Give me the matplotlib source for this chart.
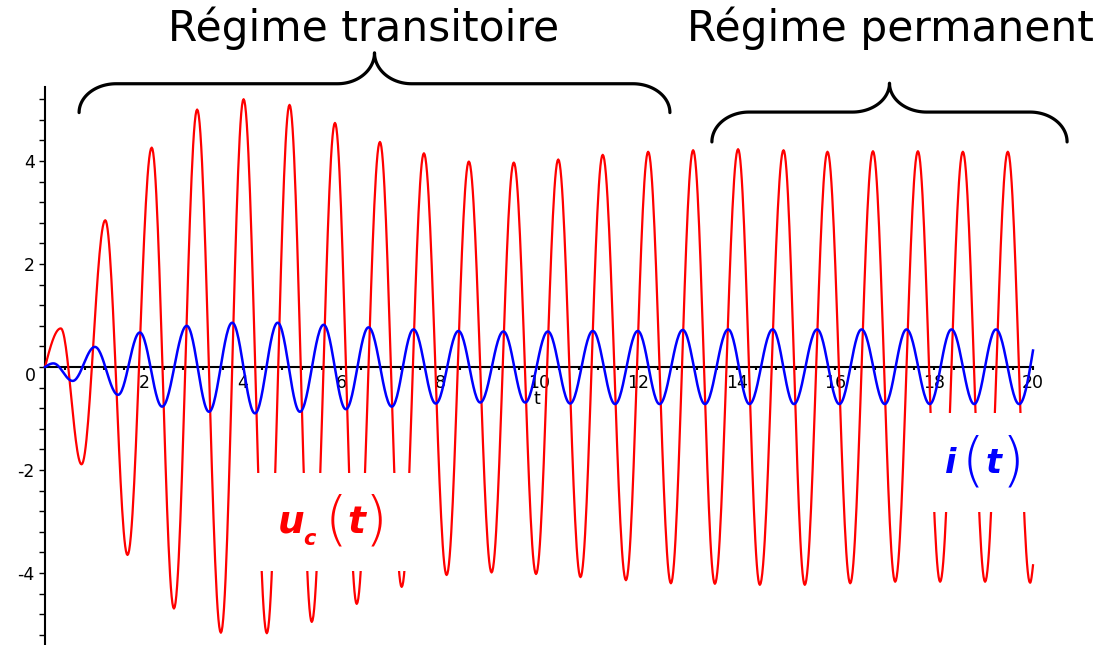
import matplotlib
matplotlib.use("Agg")
import matplotlib.pyplot as plt
import matplotlib.ticker as tick
import numpy as np

plt.rcParams["axes.unicode_minus"] = False

# extrema of u_c(t) (start, peaks/troughs, end)
red_t = [0.0, 0.32, 0.74, 1.22, 1.67, 2.16, 2.61, 3.08, 3.56, 4.02, 4.49,
         4.95, 5.40, 5.87, 6.31, 6.78, 7.22, 7.67, 8.13, 8.58, 9.04, 9.49,
         9.94, 10.39, 10.84, 11.29, 11.76, 12.21, 12.67, 13.12, 13.56, 14.03,
         14.47, 14.95, 15.38, 15.84, 16.30, 16.76, 17.21, 17.67, 18.12, 18.58,
         19.03, 19.49, 19.94, 20.0]
red_v = [0.0, 0.75, -1.89, 2.85, -3.65, 4.26, -4.69, 5.00, -5.16, 5.20, -5.17,
         5.09, -4.95, 4.74, -4.60, 4.37, -4.27, 4.15, -4.04, 3.99, -3.99, 3.97,
         -4.02, 4.03, -4.08, 4.12, -4.14, 4.18, -4.20, 4.21, -4.21, 4.23,
         -4.23, 4.21, -4.23, 4.18, -4.20, 4.19, -4.17, 4.19, -4.17, 4.18,
         -4.17, 4.18, -4.19, -3.85]

# extrema of i(t)
blue_t = [0.0, 0.17, 0.56, 1.01, 1.48, 1.92, 2.37, 2.87, 3.32, 3.79, 4.25,
          4.71, 5.16, 5.64, 6.09, 6.55, 7.02, 7.46, 7.91, 8.37, 8.81, 9.28,
          9.72, 10.18, 10.63, 11.09, 11.54, 12.00, 12.44, 12.91, 13.36, 13.83,
          14.26, 14.73, 15.16, 15.63, 16.08, 16.53, 17.00, 17.44, 17.91, 18.35,
          18.81, 19.25, 19.72, 20.0]
blue_v = [0.0, 0.07, -0.27, 0.39, -0.54, 0.67, -0.77, 0.80, -0.87, 0.86, -0.90,
          0.86, -0.87, 0.82, -0.82, 0.77, -0.77, 0.73, -0.71, 0.70, -0.69, 0.69,
          -0.69, 0.69, -0.71, 0.70, -0.72, 0.70, -0.72, 0.72, -0.72, 0.73,
          -0.72, 0.73, -0.72, 0.73, -0.72, 0.73, -0.72, 0.73, -0.72, 0.73,
          -0.72, 0.73, -0.72, 0.32]

x_ticks = [2, 4, 6, 8, 10, 12, 14, 16, 18, 20]
y_ticks = [-4, -2, 2, 4]

# braces: (start, end) along t and region titles
regions = [("Régime transitoire", 0.69, 12.65),
           ("Régime permanent", 13.50, 20.69)]


def wave(ts, vs, n=30):
    # smooth oscillation through the read extrema
    xs, ys = [], []
    last = len(ts) - 2
    for i in range(len(ts) - 1):
        s = np.linspace(0, 1, n)
        if i == 0:
            f = np.sin(np.pi / 2 * s)
        elif i == last:
            f = 1 - np.cos(np.pi / 2 * s)
        else:
            f = (1 - np.cos(np.pi * s)) / 2
        xs.append(ts[i] + (ts[i + 1] - ts[i]) * s)
        ys.append(vs[i] + (vs[i + 1] - vs[i]) * f)
    return np.concatenate(xs), np.concatenate(ys)


def brace(ax, x0, x1, y_end, y_line, y_tip, rx=0.75):
    xc = (x0 + x1) / 2
    th = np.linspace(0, np.pi / 2, 30)
    # left corner
    lx = x0 + rx - rx * np.cos(th)
    ly = y_end + (y_line - y_end) * np.sin(th)
    # left half of tip
    tx = xc - rx + rx * np.sin(th)
    ty = y_tip - (y_tip - y_line) * np.cos(th)
    xs = np.concatenate([lx, tx, 2 * xc - tx[::-1], 2 * xc - lx[::-1]])
    ys = np.concatenate([ly, ty, ty[::-1], ly[::-1]])
    ax.plot(xs, ys, color="black", lw=2.3, solid_capstyle="round",
            clip_on=False, zorder=5)


fig = plt.figure(figsize=(11.03, 6.45), dpi=100)
ax = fig.add_axes([0, 0, 1, 1])
ax.set_xlim(-0.911, 21.417)
ax.set_ylim(-5.398, 7.126)

for side in ["top", "right"]:
    ax.spines[side].set_visible(False)
ax.spines["left"].set_position(("data", 0))
ax.spines["bottom"].set_position(("data", 0))
ax.spines["left"].set_bounds(-5.6, 5.44)
ax.spines["bottom"].set_bounds(0, 20)
ax.spines["left"].set_linewidth(1.5)
ax.spines["bottom"].set_linewidth(1.5)

ax.xaxis.set_major_locator(tick.FixedLocator(x_ticks))
ax.yaxis.set_major_locator(tick.FixedLocator(y_ticks))
ax.xaxis.set_minor_locator(tick.FixedLocator(np.arange(0.4, 20.0, 0.4)))
ax.yaxis.set_minor_locator(tick.FixedLocator(np.arange(-5.2, 5.3, 0.4)))
ax.tick_params(axis="x", which="both", direction="out", length=2.5, width=1.5, pad=2.5,
               labelsize=12.5)
ax.tick_params(axis="y", which="both", direction="out", length=4, width=1, pad=3.5,
               labelsize=12.5)
ax.text(-0.30, -0.17, "0", ha="center", va="center", fontsize=12.5)
ax.text(9.96, -0.62, "t", ha="center", va="center", fontsize=12.5)

rx_, ry_ = wave(red_t, red_v)
bx_, by_ = wave(blue_t, blue_v)
ax.plot(rx_, ry_, color="#ff0000", lw=1.6, zorder=3)
ax.plot(bx_, by_, color="#0000ff", lw=1.8, zorder=3.2)

# white label boxes hiding the red curve
ax.add_patch(plt.Rectangle((4.15, -3.96), 3.44, 1.91, facecolor="white",
                           edgecolor="none", zorder=4))
ax.add_patch(plt.Rectangle((17.71, -2.81), 3.0, 1.92, facecolor="white",
                           edgecolor="none", zorder=4))

lab = dict(family="DejaVu Sans", style="oblique", weight="bold", zorder=6,
           va="baseline", ha="left")
par = dict(family="DejaVu Sans", fontsize=42, weight=200, zorder=6,
           va="baseline", ha="center")
ax.text(4.72, -3.223, "u", color="red", fontsize=27, **lab)
ax.text(5.22, -3.456, "c", color="red", fontsize=15, **lab)
ax.text(5.90, -3.33, "(", color="red", **par)
ax.text(6.13, -3.223, "t", color="red", fontsize=27, **lab)
ax.text(6.71, -3.33, ")", color="red", **par)

ax.text(18.22, -2.064, "i", color="blue", fontsize=24, **lab)
ax.text(18.78, -2.19, "(", color="blue", **par)
ax.text(19.04, -2.064, "t", color="blue", fontsize=24, **lab)
ax.text(19.60, -2.19, ")", color="blue", **par)

# region braces and titles
brace(ax, regions[0][1], regions[0][2], 4.94, 5.50, 6.10)
brace(ax, regions[1][1], regions[1][2], 4.37, 4.95, 5.51)
ax.text(6.45, 6.33, regions[0][0], ha="center", va="baseline", fontsize=30.5,
        family="DejaVu Sans", zorder=6)
ax.text(17.12, 6.33, regions[1][0], ha="center", va="baseline", fontsize=30.5,
        family="DejaVu Sans", zorder=6)

fig.savefig("out.png", dpi=100)
